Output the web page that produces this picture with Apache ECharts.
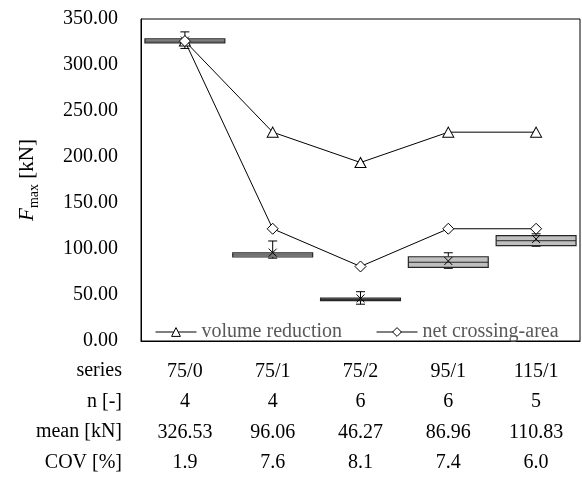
<!DOCTYPE html>
<html>
<head>
<meta charset="utf-8">
<script src="https://cdn.jsdelivr.net/npm/echarts@6/dist/echarts.min.js"></script>
<style>
  html, body { margin: 0; padding: 0; background: #fff; }
  #chart { width: 582px; height: 480px; }
</style>
</head>
<body>
<div id="chart"></div>
<script>
// test series
const categories = ['75/0', '75/1', '75/2', '95/1', '115/1']
const nSamples = [4, 4, 6, 6, 5]
const means = [326.53, 96.06, 46.27, 86.96, 110.83]
const cov = ['1.9', '7.6', '8.1', '7.4', '6.0']

// box plot stats
const boxMin = [318, 90, 40, 79, 103]
const boxQ1 = [324, 91.3, 43.8, 80, 103.6]
const boxMedian = [326, 93.5, 45, 85.6, 109]
const boxQ3 = [328.3, 95.7, 46.7, 91.6, 114.5]
const boxMax = [336, 108.7, 53.6, 95.9, 116.5]

// predictions
const volumeReduction = [326, 227, 194, 227, 227]
const netCrossingArea = [326, 122, 81, 122, 122]

const rowHeaders = ['series', 'n [-]', 'mean [kN]', 'COV [%]']

const FONT = 'Liberation Serif'

const boxData = categories.map((c, i) => [i, boxMin[i], boxQ1[i], boxMedian[i], boxQ3[i], boxMax[i], means[i]])

function renderBox(params, api) {
  const idx = api.value(0)
  const w = api.size([1, 0])[0] * 0.91
  const pMin = api.coord([idx, api.value(1)])
  const pQ1 = api.coord([idx, api.value(2)])
  const pMed = api.coord([idx, api.value(3)])
  const pQ3 = api.coord([idx, api.value(4)])
  const pMax = api.coord([idx, api.value(5)])
  const pMean = api.coord([idx, api.value(6)])
  const cx = pMed[0]
  const cap = 4.5
  const xs = 4
  const lineStyle = { stroke: '#000', lineWidth: 1 }
  return {
    type: 'group',
    children: [
      { type: 'line', shape: { x1: cx, y1: pQ3[1], x2: cx, y2: pMax[1] }, style: lineStyle },
      { type: 'line', shape: { x1: cx - cap, y1: pMax[1], x2: cx + cap, y2: pMax[1] }, style: lineStyle },
      { type: 'line', shape: { x1: cx, y1: pQ1[1], x2: cx, y2: pMin[1] }, style: lineStyle },
      { type: 'line', shape: { x1: cx - cap, y1: pMin[1], x2: cx + cap, y2: pMin[1] }, style: lineStyle },
      {
        type: 'rect',
        shape: { x: cx - w / 2, y: pQ3[1], width: w, height: Math.max(pQ1[1] - pQ3[1], 2) },
        style: { fill: '#bfbfbf', stroke: '#262626', lineWidth: 1.2 }
      },
      { type: 'line', shape: { x1: cx - w / 2, y1: pMed[1], x2: cx + w / 2, y2: pMed[1] }, style: { stroke: '#262626', lineWidth: 1 } },
      { type: 'line', shape: { x1: cx - xs, y1: pMean[1] - xs, x2: cx + xs, y2: pMean[1] + xs }, style: lineStyle },
      { type: 'line', shape: { x1: cx - xs, y1: pMean[1] + xs, x2: cx + xs, y2: pMean[1] - xs }, style: lineStyle }
    ]
  }
}

const chart = echarts.init(document.getElementById('chart'))

const option = {
  backgroundColor: '#fff',
  animation: false,
  textStyle: { fontFamily: FONT },
  grid: {
    left: 141,
    right: 2,
    top: 19,
    bottom: 139,
    show: true,
    borderColor: '#000',
    borderWidth: 1
  },
  legend: {
    left: 150,
    top: 317,
    itemWidth: 41,
    itemHeight: 11,
    itemGap: 34,
    itemStyle: { color: '#fff', borderColor: '#000', borderWidth: 1 },
    lineStyle: { color: '#000', width: 1 },
    textStyle: { fontFamily: FONT, fontSize: 20, color: '#595959' },
    data: ['volume reduction', 'net crossing-area']
  },
  xAxis: {
    type: 'category',
    data: categories,
    axisTick: { show: false },
    axisLine: { lineStyle: { color: '#000' } },
    axisLabel: {
      margin: 15,
      fontFamily: FONT,
      fontSize: 20,
      color: '#000',
      lineHeight: 30.5,
      formatter: (val, idx) => [val, nSamples[idx], means[idx].toFixed(2), cov[idx]].join('\n')
    }
  },
  yAxis: {
    type: 'value',
    min: 0,
    max: 350,
    interval: 50,
    splitLine: { show: false },
    axisTick: { show: false },
    axisLine: { show: true, lineStyle: { color: '#000' } },
    axisLabel: {
      margin: 23,
      fontFamily: FONT,
      fontSize: 20,
      color: '#000',
      formatter: (v) => v.toFixed(2)
    },
    name: '{f|F}{s|max}{u| [kN]}',
    nameLocation: 'middle',
    nameRotate: 90,
    nameGap: 103,
    nameTextStyle: {
      rich: {
        f: { fontFamily: FONT, fontSize: 21, fontStyle: 'italic', color: '#000', verticalAlign: 'bottom', lineHeight: 22 },
        s: { fontFamily: FONT, fontSize: 14, color: '#000', verticalAlign: 'bottom', lineHeight: 22, padding: [0, 0, -3, 0] },
        u: { fontFamily: FONT, fontSize: 21, color: '#000', verticalAlign: 'bottom', lineHeight: 22 }
      }
    }
  },
  graphic: rowHeaders.map((t, i) => ({
    type: 'text',
    right: 582 - 122,
    top: 361 + i * 30.5,
    style: { text: t, fontFamily: FONT, fontSize: 20, fill: '#000' }
  })),
  series: [
    {
      name: 'boxes',
      type: 'custom',
      renderItem: renderBox,
      data: boxData,
      z: 1
    },
    {
      name: 'volume reduction',
      type: 'line',
      data: volumeReduction,
      symbol: 'triangle',
      symbolSize: [11, 10],
      lineStyle: { color: '#000', width: 1 },
      itemStyle: { color: '#fff', borderColor: '#000', borderWidth: 1 },
      z: 3
    },
    {
      name: 'net crossing-area',
      type: 'line',
      data: netCrossingArea,
      symbol: 'diamond',
      symbolSize: [11, 11],
      lineStyle: { color: '#000', width: 1 },
      itemStyle: { color: '#fff', borderColor: '#000', borderWidth: 1 },
      z: 3
    }
  ]
}

chart.setOption(option)
</script>
</body>
</html>
